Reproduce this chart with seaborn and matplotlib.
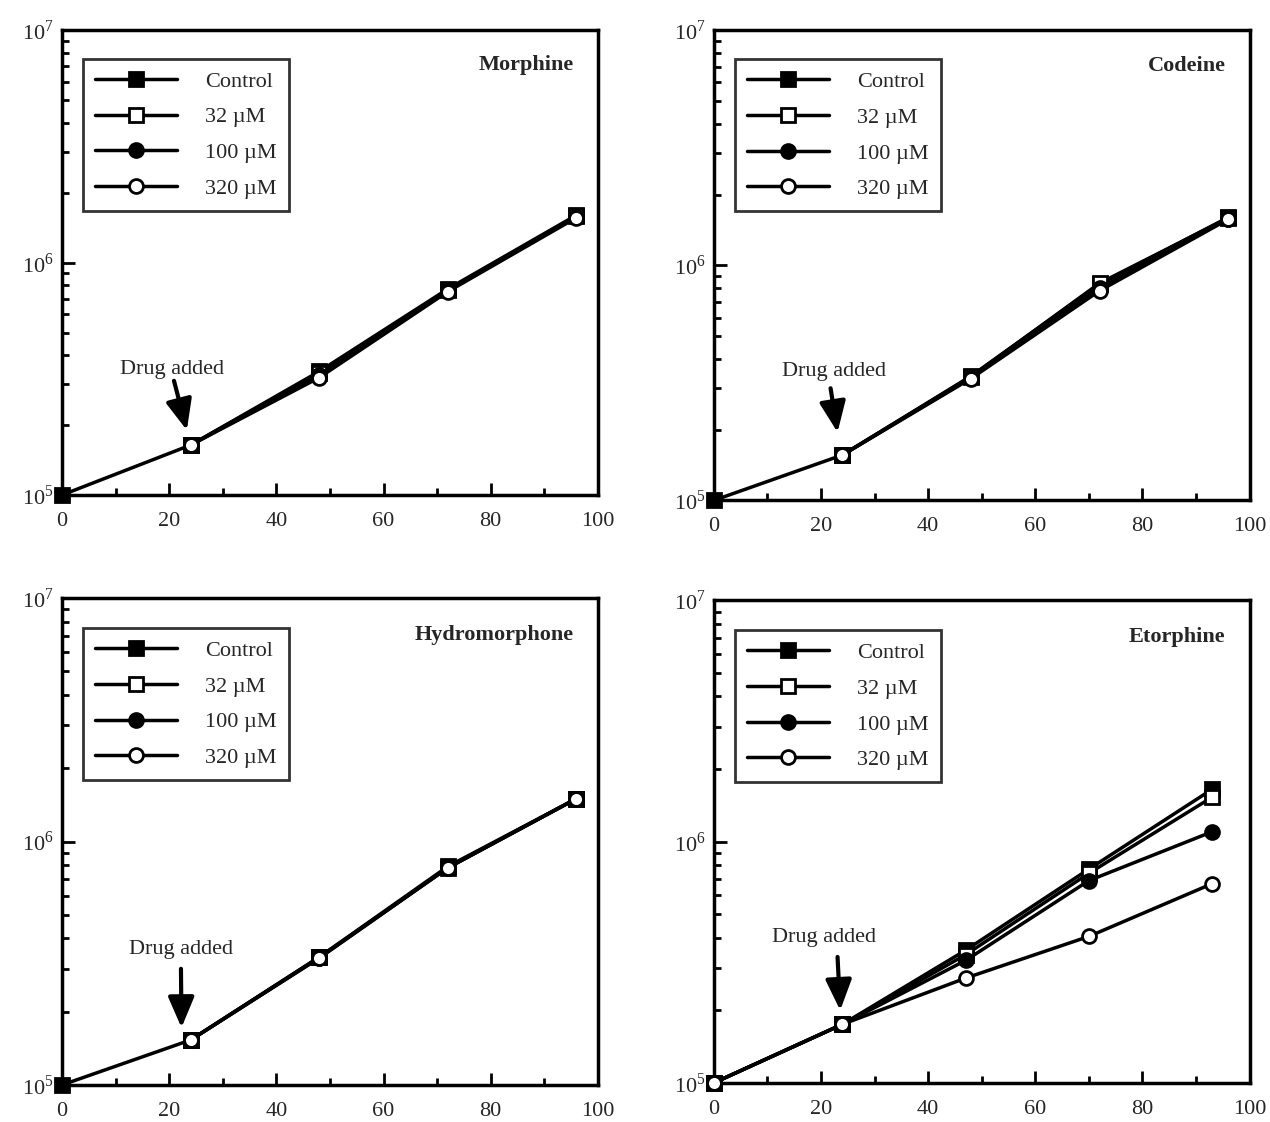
import numpy as np
import pandas as pd
import matplotlib
matplotlib.use("Agg")
import matplotlib.pyplot as plt
import seaborn as sns
from matplotlib.ticker import LogLocator, MultipleLocator, FixedLocator

sns.set_theme(style="white")
plt.rcParams['font.family'] = ['Liberation Serif', 'DejaVu Serif']
plt.rcParams['mathtext.fontset'] = 'custom'
plt.rcParams['mathtext.rm'] = 'Liberation Serif'

# hours after seeding
hours = [0, 24, 48, 72, 96]
hours_etorphine = [0, 24, 47, 70, 93]
series_names = ['Control', '32 \u00b5M', '100 \u00b5M', '320 \u00b5M']

# cell number (NaN = not plotted)
morphine = {
    'Control':    [1.0e5, 1.64e5, 3.40e5, 7.7e5, 1.60e6],
    '32 \u00b5M':  [np.nan, 1.64e5, 3.35e5, 7.6e5, 1.58e6],
    '100 \u00b5M': [np.nan, 1.64e5, 3.28e5, 7.6e5, 1.57e6],
    '320 \u00b5M': [np.nan, 1.64e5, 3.20e5, 7.5e5, 1.56e6],
}
codeine = {
    'Control':    [1.0e5, 1.56e5, 3.38e5, 8.3e5, 1.60e6],
    '32 \u00b5M':  [np.nan, 1.56e5, 3.36e5, 8.4e5, 1.59e6],
    '100 \u00b5M': [np.nan, 1.56e5, 3.33e5, 8.0e5, 1.58e6],
    '320 \u00b5M': [np.nan, 1.56e5, 3.30e5, 7.8e5, 1.57e6],
}
hydromorphone = {
    'Control':    [1.0e5, 1.53e5, 3.35e5, 7.9e5, 1.50e6],
    '32 \u00b5M':  [np.nan, 1.53e5, 3.35e5, 7.8e5, 1.50e6],
    '100 \u00b5M': [np.nan, 1.53e5, 3.33e5, 7.8e5, 1.50e6],
    '320 \u00b5M': [np.nan, 1.53e5, 3.32e5, 7.8e5, 1.50e6],
}
etorphine = {
    'Control':    [1.0e5, 1.75e5, 3.55e5, 7.7e5, 1.65e6],
    '32 \u00b5M':  [1.0e5, 1.75e5, 3.40e5, 7.4e5, 1.53e6],
    '100 \u00b5M': [1.0e5, 1.75e5, 3.22e5, 6.9e5, 1.10e6],
    '320 \u00b5M': [1.0e5, 1.75e5, 2.72e5, 4.05e5, 6.7e5],
}

styles = {
    'Control':    dict(marker='s', markerfacecolor='black'),
    '32 \u00b5M':  dict(marker='s', markerfacecolor='white'),
    '100 \u00b5M': dict(marker='o', markerfacecolor='black'),
    '320 \u00b5M': dict(marker='o', markerfacecolor='white'),
}

# name, x values, data, axes rect, label pos, arrow start, arrow tip
panels = [
    ('Morphine', hours, morphine, [0.0488, 0.5588, 0.422, 0.4144],
     (20.6, 3.31e5), (20.9, 3.1e5), (23.3, 1.9e5)),
    ('Codeine', hours, codeine, [0.562, 0.554, 0.422, 0.419],
     (22.4, 3.37e5), (21.8, 3.0e5), (23.1, 1.95e5)),
    ('Hydromorphone', hours, hydromorphone, [0.0488, 0.033, 0.422, 0.434],
     (22.3, 3.45e5), (22.2, 3.0e5), (22.3, 1.72e5)),
    ('Etorphine', hours_etorphine, etorphine, [0.562, 0.0348, 0.422, 0.430],
     (20.5, 3.84e5), (23.1, 3.33e5), (23.6, 2.0e5)),
]

fig = plt.figure(figsize=(12.7, 11.22), dpi=100)

for name, xs, data, pos, txt_xy, start_xy, tip_xy in panels:
    ax = fig.add_axes(pos)
    for s in series_names:
        df = pd.DataFrame({'hours': xs, 'cells': data[s]}).dropna()
        sns.lineplot(data=df, x='hours', y='cells', ax=ax, color='black', lw=2.5,
                     markersize=10, markeredgecolor='black', markeredgewidth=2,
                     label=s, clip_on=False, zorder=3, **styles[s])
    ax.set_yscale('log')
    ax.set_xlim(0, 100)
    ax.set_ylim(1e5, 1e7)
    ax.set_xlabel('')
    ax.set_ylabel('')
    ax.xaxis.set_major_locator(MultipleLocator(20))
    ax.xaxis.set_minor_locator(MultipleLocator(10))
    ax.yaxis.set_major_locator(FixedLocator([1e5, 1e6, 1e7]))
    ax.yaxis.set_minor_locator(LogLocator(base=10, subs=np.arange(2, 10)))
    ax.set_yticklabels(['10$^{5}$', '10$^{6}$', '10$^{7}$'])
    ax.tick_params(axis='both', which='both', direction='in', bottom=True, left=True,
                   top=False, right=False, labelsize=16, width=2, color='black')
    ax.tick_params(axis='x', which='major', length=9, pad=12)
    ax.tick_params(axis='y', which='major', length=9, pad=6)
    ax.tick_params(axis='both', which='minor', length=5)
    for sp in ax.spines.values():
        sp.set_linewidth(2.5)
        sp.set_color('black')

    leg = ax.legend(loc='upper left', bbox_to_anchor=(0.039, 0.938), borderaxespad=0,
                    fontsize=16, handlelength=3.7, handletextpad=1.25, labelspacing=0.68,
                    borderpad=0.55, fancybox=False, frameon=True)
    leg.get_frame().set_edgecolor('black')
    leg.get_frame().set_linewidth(2)

    ax.text(0.955, 0.925, name, transform=ax.transAxes, ha='right', va='center',
            fontsize=16, fontweight='bold')
    ax.text(txt_xy[0], txt_xy[1], 'Drug added', ha='center', va='baseline', fontsize=16)
    ax.annotate('', xy=tip_xy, xytext=start_xy,
                arrowprops=dict(arrowstyle='-|>,head_length=0.75,head_width=0.32',
                                color='black', lw=3, mutation_scale=25,
                                shrinkA=0, shrinkB=0))

fig.savefig('out.png', dpi=100)
